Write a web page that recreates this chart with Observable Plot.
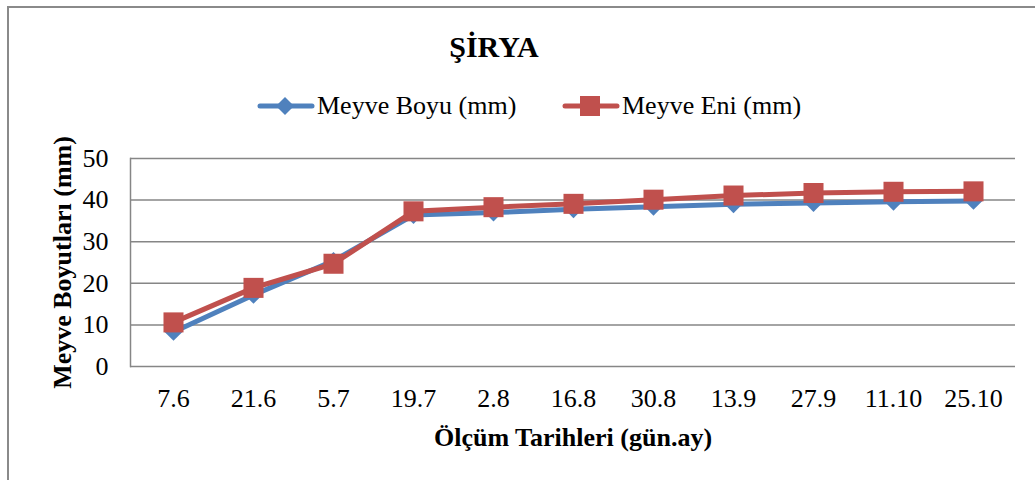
<!DOCTYPE html>
<html><head><meta charset="utf-8">
<script src="https://cdn.jsdelivr.net/npm/d3@7"></script>
<script src="https://cdn.jsdelivr.net/npm/@observablehq/plot@0.6"></script>
<style>
html,body{margin:0;padding:0;background:#fff;overflow:hidden;}
#wrap{position:relative;width:1035px;height:480px;overflow:hidden;font-family:"Liberation Serif","Times New Roman",serif;color:#000;}
#border{position:absolute;left:7px;top:6px;width:1100px;height:600px;border-left:2px solid #8a8a8a;border-top:2px solid #8a8a8a;}
#title{position:absolute;left:0;width:988px;top:29px;text-align:center;font-weight:bold;font-size:30px;line-height:36px;}
.leg{position:absolute;top:91px;height:30px;display:flex;align-items:center;font-size:26px;line-height:30px;white-space:nowrap;}
.leg svg{display:block;margin-right:2px;}
#chart{position:absolute;left:0;top:125px;}
</style>
</head><body>
<div id="wrap">
  <div id="border"></div>
  <div id="title"></div>
  <div id="legend"></div>
  <div id="chart"></div>
</div>
<script>
const chartTitle = "ŞİRYA";
const categories = ["7.6","21.6","5.7","19.7","2.8","16.8","30.8","13.9","27.9","11.10","25.10"];
const boyu = [8.3,17.2,25.4,36.4,37.0,37.8,38.4,39.0,39.3,39.6,39.8];
const eni  = [10.6,18.9,24.7,37.3,38.3,39.1,40.1,41.1,41.7,42.0,42.1];
const yTicks = [0,10,20,30,40,50];
const seriesNames = ["Meyve Boyu (mm)","Meyve Eni (mm)"];
const colors = ["#4F81BD","#C0504D"];
const yTitle = "Meyve Boyutları (mm)";
const xTitle = "Ölçüm Tarihleri (gün.ay)";

document.getElementById("title").textContent = chartTitle;

// legend
const legend = document.getElementById("legend");
const legLefts = [257, 562];
seriesNames.forEach((name, i) => {
  const item = document.createElement("div");
  item.className = "leg";
  item.style.left = legLefts[i] + "px";
  const ns = "http://www.w3.org/2000/svg";
  const svg = document.createElementNS(ns, "svg");
  svg.setAttribute("width", 58); svg.setAttribute("height", 30);
  const ln = document.createElementNS(ns, "line");
  ln.setAttribute("x1", 3); ln.setAttribute("x2", 55); ln.setAttribute("y1", 15); ln.setAttribute("y2", 15);
  ln.setAttribute("stroke", colors[i]); ln.setAttribute("stroke-width", 5); ln.setAttribute("stroke-linecap", "round");
  svg.appendChild(ln);
  let mk;
  if (i === 0) {
    mk = document.createElementNS(ns, "path");
    mk.setAttribute("d", "M28,6 L37,15 L28,24 L19,15 Z");
  } else {
    mk = document.createElementNS(ns, "rect");
    mk.setAttribute("x", 18); mk.setAttribute("y", 5); mk.setAttribute("width", 20); mk.setAttribute("height", 20);
  }
  mk.setAttribute("fill", colors[i]);
  svg.appendChild(mk);
  item.appendChild(svg);
  const t = document.createElement("span");
  t.textContent = name;
  item.appendChild(t);
  legend.appendChild(item);
});

const dataB = categories.map((c, i) => ({cat: c, v: boyu[i]}));
const dataE = categories.map((c, i) => ({cat: c, v: eni[i]}));
const font = '"Liberation Serif","Times New Roman",serif';

const chart = Plot.plot({
  width: 1035, height: 345,
  marginTop: 33, marginBottom: 104, marginLeft: 130, marginRight: 20,
  style: {fontFamily: font, fontSize: "26px", color: "#000", background: "transparent", overflow: "visible"},
  x: {type: "point", domain: categories, padding: 0.5, label: null},
  y: {domain: [0, 50], label: null},
  marks: [
    Plot.ruleY(yTicks, {stroke: "#868686", strokeWidth: 1.5}),
    Plot.frame({anchor: "left", stroke: "#868686", strokeWidth: 1.5}),
    Plot.axisX({tickSize: 0, tickPadding: 22, label: null, fill: "#000"}),
    Plot.axisY(yTicks, {tickSize: 0, tickPadding: 22, label: null, fill: "#000"}),
    Plot.line(dataB, {x: "cat", y: "v", stroke: colors[0], strokeWidth: 5}),
    Plot.dot(dataB, {x: "cat", y: "v", symbol: "diamond2", r: 8, fill: colors[0]}),
    Plot.line(dataE, {x: "cat", y: "v", stroke: colors[1], strokeWidth: 5}),
    Plot.dot(dataE, {x: "cat", y: "v", symbol: "square", r: 11.3, fill: colors[1]}),
    Plot.text([yTitle], {text: d => d, frameAnchor: "left", dx: -68, rotate: -90, textAnchor: "middle", lineAnchor: "middle", fontWeight: "bold", fontSize: 26, fill: "#000"}),
    Plot.text([xTitle], {text: d => d, frameAnchor: "bottom", dy: 71, textAnchor: "middle", lineAnchor: "middle", fontWeight: "bold", fontSize: 26, fill: "#000"})
  ]
});
document.getElementById("chart").appendChild(chart);
</script>
</body></html>
